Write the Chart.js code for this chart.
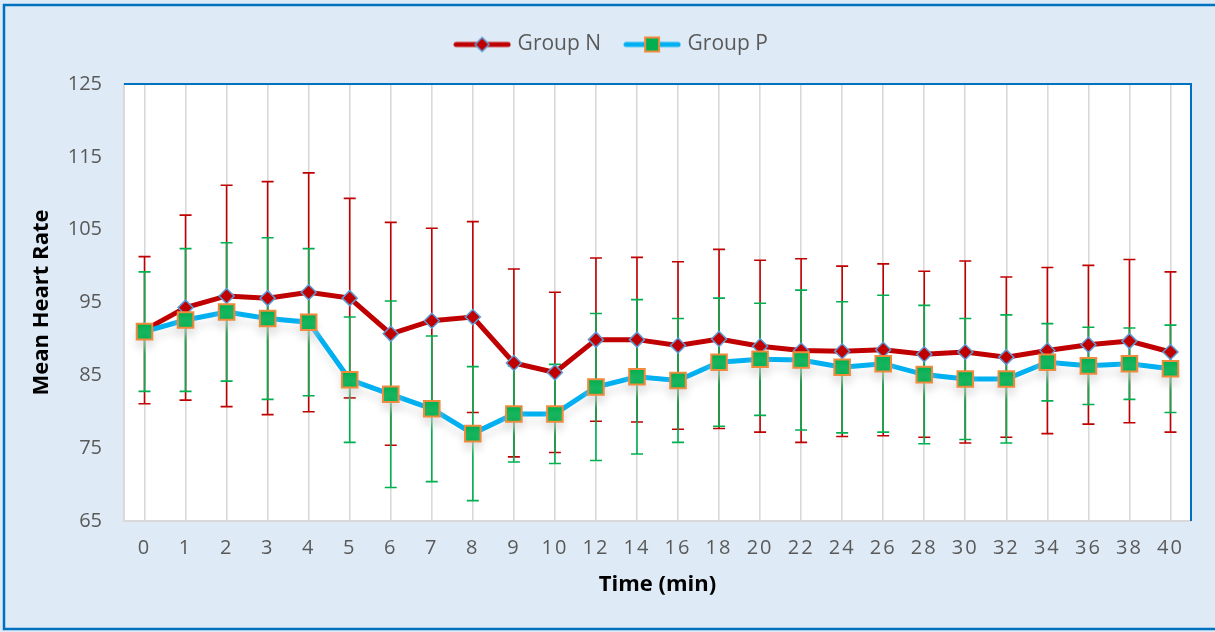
<!DOCTYPE html>
<html>
<head>
<meta charset="utf-8">
<script src="https://cdn.jsdelivr.net/npm/chart.js@4.4.1/dist/chart.umd.min.js"></script>
<style>
  html, body { margin: 0; padding: 0; background: #DEEBF7; }
  #wrap { width: 1215px; height: 632px; }
</style>
</head>
<body>
<div id="wrap"><canvas id="hrChart" width="1215" height="632"></canvas></div>
<script>
// time points (min)
const timeLabels = ['0', '1', '2', '3', '4', '5', '6', '7', '8', '9', '10',
    '12', '14', '16', '18', '20', '22', '24', '26', '28', '30', '32', '34', '36', '38', '40'];

// Group N: mean heart rate and SD
const groupN = [91.2, 94.3, 95.9, 95.6, 96.4, 95.6, 90.7, 92.5, 93.0, 86.7, 85.4,
    89.9, 89.9, 89.1, 90.0, 89.0, 88.4, 88.3, 88.5, 87.9, 88.2, 87.5, 88.4, 89.2, 89.7, 88.2];
const groupNSd = [10.1, 12.7, 15.2, 16.0, 16.4, 13.7, 15.3, 12.7, 13.1, 12.9, 11.0,
    11.2, 11.3, 11.5, 12.3, 11.8, 12.6, 11.7, 11.8, 11.4, 12.5, 11.0, 11.4, 10.9, 11.2, 11.0];

// Group P: mean heart rate and SD
const groupP = [91.0, 92.6, 93.7, 92.8, 92.3, 84.4, 82.4, 80.4, 77.0, 79.7, 79.7,
    83.4, 84.8, 84.3, 86.8, 87.2, 87.1, 86.1, 86.6, 85.1, 84.5, 84.5, 86.8, 86.3, 86.6, 85.9];
const groupPSd = [8.2, 9.8, 9.5, 11.1, 10.1, 8.6, 12.8, 10.0, 9.2, 6.6, 6.8,
    10.1, 10.6, 8.5, 8.8, 7.7, 9.6, 9.0, 9.4, 9.5, 8.3, 8.8, 5.3, 5.3, 4.9, 6.0];

const yMin = 65;
const yMax = 125;
const yStep = 10;

const RED = '#C00000';
const BLUE = '#00B0F0';
const GREEN = '#00B050';
const ORANGE = '#F08A3C';
const EDGE = '#0070C0';
const TEXT = '#595959';
const FONT = "'Open Sans', 'Noto Sans', sans-serif";

// legend icons: line with the marker in the middle
function makeIcon(lineColor, drawMarker) {
    const c = document.createElement('canvas');
    c.width = 58;
    c.height = 20;
    const g = c.getContext('2d');
    g.strokeStyle = lineColor;
    g.lineWidth = 5;
    g.lineCap = 'round';
    g.beginPath();
    g.moveTo(3, 10);
    g.lineTo(55, 10);
    g.stroke();
    drawMarker(g, 29, 10);
    return c;
}

const iconN = makeIcon(RED, (g, x, y) => {
    g.beginPath();
    g.moveTo(x, y - 7);
    g.lineTo(x + 7, y);
    g.lineTo(x, y + 7);
    g.lineTo(x - 7, y);
    g.closePath();
    g.fillStyle = RED;
    g.fill();
    g.strokeStyle = '#5B9BD5';
    g.lineWidth = 1.5;
    g.stroke();
});

const iconP = makeIcon(BLUE, (g, x, y) => {
    g.fillStyle = GREEN;
    g.fillRect(x - 7, y - 7, 14, 14);
    g.strokeStyle = ORANGE;
    g.lineWidth = 2;
    g.strokeRect(x - 7, y - 7, 14, 14);
});

const errorBars = [
    { means: groupN, sds: groupNSd, color: RED },
    { means: groupP, sds: groupPSd, color: GREEN }
];

const framePlugin = {
    id: 'frame',
    afterInit(chart) {
        // leave room between the legend and the plot area, nudge it right
        const lg = chart.legend;
        if (!lg) return;
        const fit = lg.fit.bind(lg);
        lg.fit = function () {
            fit();
            if (this.isHorizontal()) this.height += 19;
        };
        const draw = lg.draw.bind(lg);
        lg.draw = function () {
            this.ctx.save();
            this.ctx.translate(12, 0);
            draw();
            this.ctx.restore();
        };
    },
    afterLayout(chart) {
        // Excel-like spaced digits on the time axis
        const sc = chart.scales.x;
        if (!sc || sc._spaced) return;
        sc._spaced = true;
        const drawLabels = sc.drawLabels.bind(sc);
        sc.drawLabels = function (area) {
            this.ctx.save();
            this.ctx.letterSpacing = '2px';
            drawLabels(area);
            this.ctx.restore();
        };
    },
    beforeDraw(chart) {
        const { ctx, width, height, chartArea: a } = chart;
        ctx.save();
        ctx.fillStyle = '#DEEBF7';
        ctx.fillRect(0, 0, width, height);
        ctx.strokeStyle = EDGE;
        ctx.lineWidth = 2.5;
        ctx.strokeRect(4, 5, width + 10, height - 8);
        ctx.fillStyle = '#FFFFFF';
        ctx.fillRect(a.left, a.top, a.right - a.left, a.bottom - a.top);
        ctx.restore();
    },
    beforeDatasetsDraw(chart) {
        const { ctx, chartArea: a, scales } = chart;
        ctx.save();
        ctx.strokeStyle = EDGE;
        ctx.lineWidth = 2;
        ctx.beginPath();
        ctx.moveTo(a.left, a.top);
        ctx.lineTo(a.right, a.top);
        ctx.lineTo(a.right, a.bottom);
        ctx.stroke();

        ctx.lineWidth = 1.6;
        errorBars.forEach(s => {
            ctx.strokeStyle = s.color;
            s.means.forEach((m, i) => {
                const x = scales.x.getPixelForValue(i);
                const yt = scales.y.getPixelForValue(m + s.sds[i]);
                const yb = scales.y.getPixelForValue(m - s.sds[i]);
                ctx.beginPath();
                ctx.moveTo(x, yt);
                ctx.lineTo(x, yb);
                ctx.moveTo(x - 6, yt);
                ctx.lineTo(x + 6, yt);
                ctx.moveTo(x - 6, yb);
                ctx.lineTo(x + 6, yb);
                ctx.stroke();
            });
        });
        ctx.restore();
    },
    beforeDatasetDraw(chart, args) {
        if (args.index !== 1) return;
        const ctx = chart.ctx;
        ctx.save();
        ctx.shadowColor = 'rgba(210, 210, 210, 0.45)';
        ctx.shadowBlur = 7;
        ctx.shadowOffsetY = 8;
    },
    afterDatasetDraw(chart, args) {
        if (args.index !== 1) return;
        chart.ctx.restore();
    }
};

new Chart(document.getElementById('hrChart'), {
    type: 'line',
    data: {
        labels: timeLabels,
        datasets: [
            {
                label: 'Group N',
                data: groupN,
                order: 2,
                borderColor: RED,
                borderWidth: 5,
                pointStyle: 'rectRot',
                pointRadius: 7.5,
                pointBackgroundColor: RED,
                pointBorderColor: '#5B9BD5',
                pointBorderWidth: 1.5,
                tension: 0
            },
            {
                label: 'Group P',
                data: groupP,
                order: 1,
                borderColor: BLUE,
                borderWidth: 5,
                pointStyle: 'rect',
                pointRadius: 11,
                pointBackgroundColor: GREEN,
                pointBorderColor: ORANGE,
                pointBorderWidth: 2,
                tension: 0
            }
        ]
    },
    options: {
        responsive: false,
        animation: false,
        layout: { padding: { left: 10, right: 24, top: 8, bottom: 10 } },
        plugins: {
            tooltip: { enabled: false },
            legend: {
                position: 'top',
                labels: {
                    usePointStyle: true,
                    pointStyleWidth: 50,
                    padding: 26,
                    color: TEXT,
                    font: { family: FONT, size: 21 },
                    generateLabels(chart) {
                        const items = Chart.defaults.plugins.legend.labels.generateLabels(chart);
                        items.sort((a, b) => a.datasetIndex - b.datasetIndex);
                        items.forEach(it => {
                            it.pointStyle = it.datasetIndex === 0 ? iconN : iconP;
                        });
                        return items;
                    }
                }
            }
        },
        scales: {
            x: {
                offset: true,
                grid: { display: true, color: '#D9D9D9', lineWidth: 1.6, drawTicks: false },
                border: { display: true, color: '#D9D9D9', width: 2 },
                ticks: { color: TEXT, font: { family: FONT, size: 20 }, padding: 15, maxRotation: 0, autoSkip: false },
                title: {
                    display: true,
                    text: 'Time (min)',
                    color: '#000000',
                    font: { family: FONT, size: 22, weight: 'bold' },
                    padding: { top: 0, bottom: 24 }
                },
                afterFit(scale) { scale.height = 101; }
            },
            y: {
                min: yMin,
                max: yMax,
                grid: { display: false, drawTicks: false },
                border: { display: true, color: '#D9D9D9', width: 2 },
                ticks: { stepSize: yStep, color: TEXT, font: { family: FONT, size: 20 }, padding: 22 },
                title: {
                    display: true,
                    text: 'Mean Heart Rate',
                    color: '#000000',
                    font: { family: FONT, size: 22, weight: 'bold' },
                    padding: { top: 19, bottom: 0 }
                },
                afterFit(scale) { scale.width = 114; }
            }
        }
    },
    plugins: [framePlugin]
});
</script>
</body>
</html>
